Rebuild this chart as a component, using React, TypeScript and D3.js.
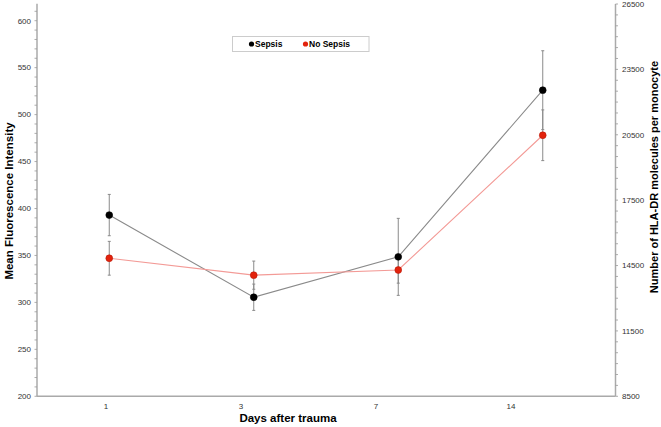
import React from "react";
import * as d3 from "d3";

const days = ["1", "3", "7", "14"];
const sepsisMean = [393, 305.5, 348.5, 526];
const sepsisErr = [22, 14, 41, 42];
const noSepsisMean = [347, 329, 334.5, 478];
const noSepsisErr = [18, 15, 14, 27];
const leftTicks = [200, 250, 300, 350, 400, 450, 500, 550, 600];
const rightTicks = [8500, 11500, 14500, 17500, 20500, 23500, 26500];

const W = 661;
const H = 427;
const FONT = "'Liberation Sans', Arial, sans-serif";

export default function App() {
  const x = d3.scaleBand<string>().domain(days).range([37, 615]);
  const xc = (d: string) => (x(d) as number) + x.bandwidth() / 2;
  const xLabel = d3.scalePoint<string>().domain(days).range([106, 511]);
  const y = d3.scaleLinear().domain([200, 600]).range([396.3, 20.7]);
  const yR = d3.scaleLinear().domain([8500, 26500]).range([396.3, 4]);

  const line = d3
    .line<number>()
    .x((_, i) => xc(days[i]))
    .y((v) => y(v));

  const leftMinor = d3.range(200, 620, 10);
  const rightMinor = d3.range(8500, 26501, 500);

  const series = [
    { mean: sepsisMean, err: sepsisErr, line: "#8a8a8a", fill: "#000000", stroke: "#000" },
    { mean: noSepsisMean, err: noSepsisErr, line: "#f39a96", fill: "#e3230d", stroke: "#b81a08" },
  ];

  return (
    <svg
      width={W}
      height={H}
      style={{ position: "absolute", left: 0, top: 0, background: "#fff" }}
      fontFamily={FONT}
    >
      {/* axes lines */}
      <line x1={37} x2={37} y1={y(618)} y2={396.3} stroke="#aaa" strokeWidth={1.5} />
      <line x1={615.5} x2={615.5} y1={yR(26500)} y2={396.3} stroke="#aaa" strokeWidth={1.5} />
      <line x1={37} x2={615.5} y1={396.3} y2={396.3} stroke="#aaa" strokeWidth={1.5} />

      {/* left ticks */}
      {leftMinor.map((v) => (
        <line key={"lm" + v} x1={34.5} x2={37} y1={y(v)} y2={y(v)} stroke="#999" strokeWidth={0.8} />
      ))}
      {leftTicks.map((v) => (
        <text key={"lt" + v} x={31} y={y(v)} dy="0.35em" textAnchor="end" fontSize={8} fill="#333">
          {v}
        </text>
      ))}

      {/* right ticks */}
      {rightMinor.map((v) => (
        <line key={"rm" + v} x1={615.5} x2={618} y1={yR(v)} y2={yR(v)} stroke="#999" strokeWidth={0.8} />
      ))}
      {rightTicks.map((v) => (
        <text key={"rt" + v} x={622} y={yR(v)} dy="0.35em" textAnchor="start" fontSize={8} fill="#333">
          {v}
        </text>
      ))}

      {/* x tick labels */}
      {days.map((d) => (
        <text key={"xt" + d} x={xLabel(d)} y={409} textAnchor="middle" fontSize={8} fill="#333">
          {d}
        </text>
      ))}

      {/* titles */}
      <text x={288} y={422} textAnchor="middle" fontSize={11.5} fontWeight="bold" fill="#000">
        Days after trauma
      </text>
      <text
        transform={`translate(12.5,201) rotate(-90)`}
        textAnchor="middle"
        fontSize={11.5}
        fontWeight="bold"
        fill="#000"
      >
        Mean Fluorescence Intensity
      </text>
      <text
        transform={`translate(658,177) rotate(-90)`}
        textAnchor="middle"
        fontSize={11}
        fontWeight="bold"
        fill="#000"
      >
        Number of HLA-DR molecules per monocyte
      </text>

      {/* series */}
      {series.map((s, si) => (
        <g key={"s" + si}>
          <path d={line(s.mean) || ""} fill="none" stroke={s.line} strokeWidth={1.1} />
        </g>
      ))}
      {series.map((s, si) => (
        <g key={"e" + si}>
          {s.mean.map((m, i) => {
            const cx = xc(days[i]);
            return (
              <g key={i}>
                <line x1={cx} x2={cx} y1={y(m + s.err[i])} y2={y(m - s.err[i])} stroke="#8a8a8a" strokeWidth={1} />
                <line x1={cx - 1.5} x2={cx + 1.5} y1={y(m + s.err[i])} y2={y(m + s.err[i])} stroke="#8a8a8a" strokeWidth={1} />
                <line x1={cx - 1.5} x2={cx + 1.5} y1={y(m - s.err[i])} y2={y(m - s.err[i])} stroke="#8a8a8a" strokeWidth={1} />
              </g>
            );
          })}
        </g>
      ))}
      {series.map((s, si) => (
        <g key={"p" + si}>
          {s.mean.map((m, i) => (
            <circle key={i} cx={xc(days[i])} cy={y(m)} r={3.4} fill={s.fill} stroke={s.stroke} strokeWidth={0.6} />
          ))}
        </g>
      ))}

      {/* legend */}
      <rect x={232.5} y={36.5} width={136.5} height={15} fill="#fff" stroke="#ccc" strokeWidth={1} />
      <circle cx={251.5} cy={44} r={2.6} fill="#000" />
      <text x={255} y={44} dy="0.35em" fontSize={8.5} fontWeight="bold" fill="#000">
        Sepsis
      </text>
      <circle cx={305.5} cy={44} r={2.6} fill="#e3230d" />
      <text x={309} y={44} dy="0.35em" fontSize={8.5} fontWeight="bold" fill="#000">
        No Sepsis
      </text>
    </svg>
  );
}
